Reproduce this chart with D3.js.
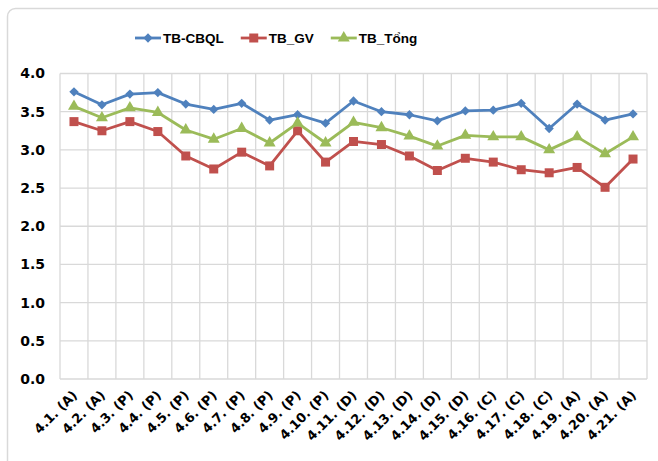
<!DOCTYPE html>
<html>
<head>
<meta charset="utf-8">
<script src="https://cdn.jsdelivr.net/npm/d3@7"></script>
<style>
  body { margin: 0; background: #fff; }
  .tick-y { font-family: "DejaVu Sans", Verdana, sans-serif; font-weight: bold; font-size: 14px; }
  .tick-x { font-family: "DejaVu Sans", Verdana, sans-serif; font-weight: bold; font-size: 13px; }
  .legend text { font-family: "Liberation Sans", Arial, sans-serif; font-weight: bold; font-size: 13.5px; }
</style>
</head>
<body>
<div id="chart"></div>
<script>
var categories = ["4.1. (A)", "4.2. (A)", "4.3. (P)", "4.4. (P)", "4.5. (P)", "4.6. (P)", "4.7. (P)",
    "4.8. (P)", "4.9. (P)", "4.10. (P)", "4.11. (D)", "4.12. (D)", "4.13. (D)", "4.14. (D)",
    "4.15. (D)", "4.16. (C)", "4.17. (C)", "4.18. (C)", "4.19. (A)", "4.20. (A)", "4.21. (A)"];

var tbCBQL = [3.76, 3.59, 3.73, 3.75, 3.60, 3.53, 3.61, 3.39, 3.46, 3.35, 3.64,
    3.50, 3.46, 3.38, 3.51, 3.52, 3.61, 3.28, 3.60, 3.39, 3.47];
var tbGV = [3.37, 3.25, 3.37, 3.24, 2.92, 2.75, 2.97, 2.79, 3.25, 2.84, 3.11,
    3.07, 2.92, 2.73, 2.89, 2.84, 2.74, 2.70, 2.77, 2.51, 2.88];
var tbTong = [3.57, 3.42, 3.55, 3.49, 3.26, 3.14, 3.28, 3.09, 3.35, 3.09, 3.36,
    3.29, 3.18, 3.05, 3.19, 3.17, 3.17, 3.00, 3.17, 2.95, 3.17];

var yTicks = [0, 0.5, 1, 1.5, 2, 2.5, 3, 3.5, 4];
var seriesNames = ["TB-CBQL", "TB_GV", "TB_T\u1ed5ng"];

var series = [
    {name: seriesNames[0], values: tbCBQL, color: "#4f81bd", shape: d3.symbolDiamond2, size: 55},
    {name: seriesNames[1], values: tbGV, color: "#c0504d", shape: d3.symbolSquare, size: 81},
    {name: seriesNames[2], values: tbTong, color: "#9bbb59", shape: d3.symbolTriangle, size: 62}
];

var W = 658, H = 461;
var plot = {left: 60, right: 647, top: 73.5, bottom: 379};

var svg = d3.select("#chart").append("svg")
    .attr("width", W)
    .attr("height", H);

// outer chart frame
svg.append("rect")
    .attr("x", 7.5).attr("y", 8.5)
    .attr("width", 700).attr("height", 500)
    .attr("rx", 8)
    .attr("fill", "#fff")
    .attr("stroke", "#d9d9d9")
    .attr("stroke-width", 1.5);

var x = d3.scaleBand().domain(categories).range([plot.left, plot.right]);
var y = d3.scaleLinear().domain([0, 4]).range([plot.bottom, plot.top]);

// grid
var grid = svg.append("g").attr("stroke", "#d9d9d9").attr("stroke-width", 1.3);
grid.selectAll(".h")
    .data(yTicks)
    .enter().append("line")
    .attr("x1", plot.left).attr("x2", plot.right)
    .attr("y1", function(d) { return y(d); })
    .attr("y2", function(d) { return y(d); });
var edges = categories.map(function(c) { return x(c); }).concat([plot.right]);
grid.selectAll(".v")
    .data(edges)
    .enter().append("line")
    .attr("x1", function(d) { return d; }).attr("x2", function(d) { return d; })
    .attr("y1", plot.top).attr("y2", plot.bottom);

// y axis labels
svg.append("g")
    .attr("transform", "translate(" + (plot.left - 15) + ",0)")
    .call(d3.axisLeft(y).tickValues(yTicks).tickFormat(d3.format(".1f")).tickSize(0).tickPadding(0))
    .call(function(g) { g.select(".domain").remove(); })
    .selectAll("text")
    .attr("class", "tick-y")
    .attr("font-family", null).attr("font-size", null)
    .attr("fill", "#000");

// x axis labels
svg.append("g")
    .selectAll("text")
    .data(categories)
    .enter().append("text")
    .attr("class", "tick-x")
    .attr("text-anchor", "end")
    .attr("transform", function(d) {
        return "translate(" + (x(d) + x.bandwidth() / 2 + 4) + "," + (plot.bottom + 17) + ") rotate(-45)";
    })
    .text(function(d) { return d; });

// lines and markers
var line = d3.line()
    .x(function(d, i) { return x(categories[i]) + x.bandwidth() / 2; })
    .y(function(d) { return y(d); });

series.forEach(function(s) {
    svg.append("path")
        .datum(s.values)
        .attr("fill", "none")
        .attr("stroke", s.color)
        .attr("stroke-width", 2.8)
        .attr("stroke-linejoin", "round")
        .attr("d", line);
    svg.append("g").selectAll("path")
        .data(s.values)
        .enter().append("path")
        .attr("fill", s.color)
        .attr("transform", function(d, i) {
            return "translate(" + (x(categories[i]) + x.bandwidth() / 2) + "," + y(d) + ")";
        })
        .attr("d", d3.symbol().type(s.shape).size(s.size));
});

// legend
var legend = svg.append("g").attr("class", "legend");
var lx = 135, ly = 38;
series.forEach(function(s) {
    legend.append("line")
        .attr("x1", lx).attr("x2", lx + 26)
        .attr("y1", ly).attr("y2", ly)
        .attr("stroke", s.color).attr("stroke-width", 2.8);
    legend.append("path")
        .attr("transform", "translate(" + (lx + 13) + "," + ly + ")")
        .attr("fill", s.color)
        .attr("d", d3.symbol().type(s.shape).size(s.size));
    var t = legend.append("text")
        .attr("x", lx + 28).attr("y", ly + 5)
        .attr("fill", "#000")
        .text(s.name);
    lx += 28 + t.node().getComputedTextLength() + 17;
});
</script>
</body>
</html>
